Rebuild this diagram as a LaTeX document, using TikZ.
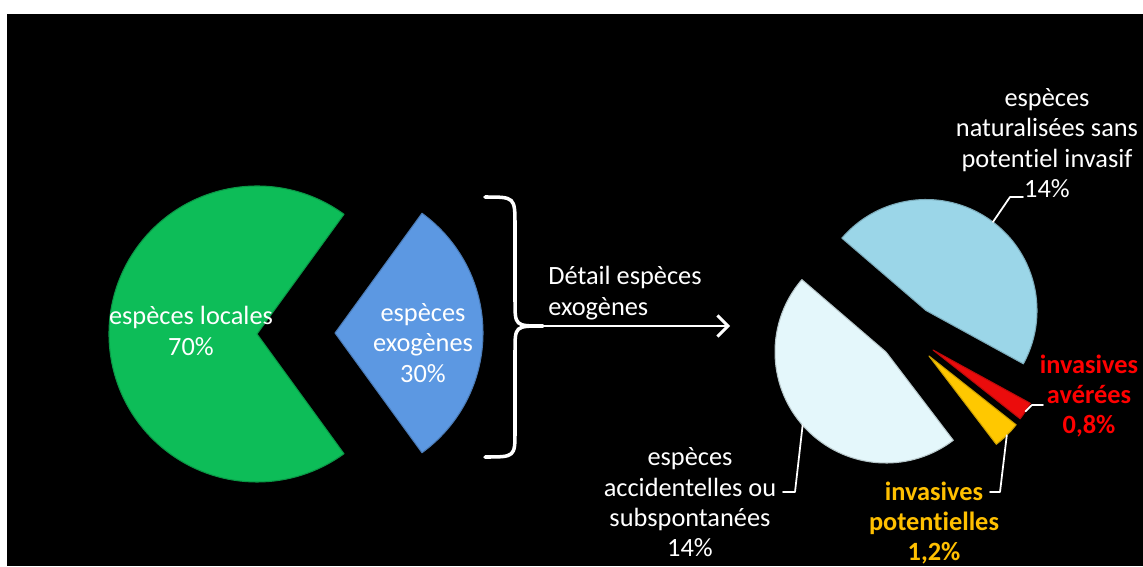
\documentclass[tikz,border=0pt]{standalone}
\usepackage{fontspec}
\setmainfont{Carlito}[Ligatures=NoCommon]
\usetikzlibrary{arrows.meta}
\definecolor{gruen}{RGB}{13,189,88}
\definecolor{blau}{RGB}{92,152,226}
\definecolor{hellblau}{RGB}{155,214,232}
\definecolor{blass}{RGB}{228,247,251}
\definecolor{rot}{RGB}{235,12,12}
\definecolor{gelb}{RGB}{255,200,0}
\definecolor{txtrot}{RGB}{255,0,0}
\definecolor{txtgelb}{RGB}{255,192,0}
\tikzset{
  every picture/.style={x=0.02cm, y=0.02cm, line cap=round, line join=round},
  every node/.style={font=\fontsize{15}{17.3}\selectfont, inner sep=0pt},
  % Tortenstuecke
  slice/.style={fill=#1, draw=#1!80!black, line width=0.6pt},
  % Beschriftungen
  lbl/.style={text=white, align=center},
  lblb/.style={align=center, font=\fontsize{15}{17.3}\selectfont\bfseries},
  lead/.style={white, line width=1pt},
  brace/.style={white, line width=2pt},
  pfeil/.style={white, line width=1.7pt, -{Straight Barb[length=6pt,width=12pt]}},
}
\begin{document}
\begin{tikzpicture}
  \useasboundingbox (0,0) rectangle (1143,566);
  \fill[white] (0,0) rectangle (1143,566);
  \fill[black] (7,0) rectangle (1143,552);
  % linker Kreis: lokal / exogen
  \coordinate (gV) at (257,232);
  \coordinate (bV) at (335,233);
  \path[slice=gruen] (gV) -- +(54:148) arc[start angle=54, end angle=306, radius=148] -- cycle;
  \path[slice=blau] (bV) -- +(-54:148) arc[start angle=-54, end angle=54, radius=148] -- cycle;
  \node[lbl] (lok) at (191,235) {espèces locales\\70\%};
  \node[lbl] (exo) at (423,223) {espèces\\exogènes\\30\%};
  % Klammer und Pfeil
  \coordinate (kM) at (543,240);
  \coordinate (kE) at (730,240);
  \draw[brace] (485,369) .. controls (515,369) .. (515,340) -- (515,265)
    .. controls (515,240) .. (kM) .. controls (515,240) .. (515,215)
    -- (515,135) .. controls (515,109) .. (485,109);
  \draw[pfeil] (kM) -- (kE);
  \node[text=white, align=left, anchor=west] (det) at (548,273) {Détail espèces\\exogènes};
  % rechter Kreis: Aufteilung der exogenen Arten
  \coordinate (nV) at (926,255.5);
  \coordinate (aV) at (886,214);
  \coordinate (pV) at (929,210);
  \coordinate (rV) at (933,216);
  \path[slice=hellblau] (nV) -- +(-28.7:111) arc[start angle=-28.7, end angle=139.3, radius=111] -- cycle;
  \path[slice=blass] (aV) -- +(139.3:111) arc[start angle=139.3, end angle=307.3, radius=111] -- cycle;
  \path[slice=gelb] (pV) -- +(307.3:111) arc[start angle=307.3, end angle=321.7, radius=111] -- cycle;
  \path[slice=rot] (rV) -- +(321.7:111) arc[start angle=321.7, end angle=331.3, radius=111] -- cycle;
  \path (nV) ++(52.9:111) coordinate (nA);
  \path (aV) ++(221.3:111) coordinate (aA);
  \path (pV) ++(314.5:111) coordinate (pA);
  \path (rV) ++(326.5:111) coordinate (rA);
  % Beschriftungen
  \node[lbl] (nat) at (1047,423) {espèces\\naturalisées sans\\potentiel invasif\\14\%};
  \node[lbl] (acc) at (690,63.5) {espèces\\accidentelles ou\\subspontanées\\14\%};
  \node[lblb, text=txtgelb] (pot) at (934,43) {invasives\\potentielles\\1,2\%};
  \node[lblb, text=txtrot] (ave) at (1089,170) {invasives\\avérées\\0,8\%};
  % Fuehrungslinien
  \coordinate (nE) at (1023,369);
  \coordinate (aE) at (783,74);
  \coordinate (pE) at (990,74);
  \coordinate (rE) at (1043,161);
  \draw[lead] (nA) -- (1010,369) -- (nE);
  \draw[lead] (aA) -- (795,74) -- (aE);
  \draw[lead] (pA) -- (1000,74) -- (pE);
  \draw[lead] (rA) -- (1032,161) -- (rE);
\end{tikzpicture}
\end{document}
